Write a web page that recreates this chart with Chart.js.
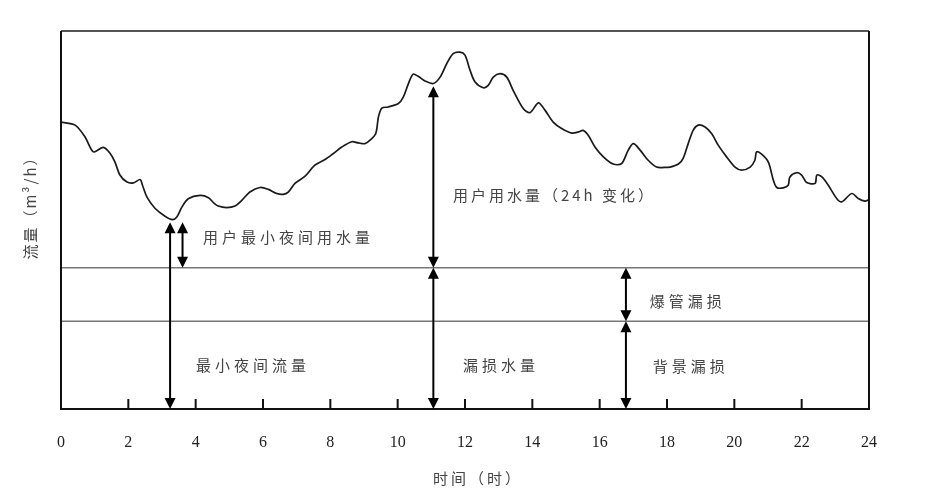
<!DOCTYPE html>
<html>
<head>
<meta charset="utf-8">
<script src="https://cdn.jsdelivr.net/npm/chart.js@4.4.0/dist/chart.umd.min.js"></script>
<style>
  html, body { margin: 0; padding: 0; background: #fff; }
  #wrap { width: 927px; height: 498px; }
</style>
</head>
<body>
<div id="wrap"><canvas id="c"></canvas></div>
<script>
// time of day (h) and flow readings (0-100 relative units)
var hours = [0, 0.42, 0.71, 0.91, 0.99, 1.26, 1.46, 1.6, 1.75, 1.95, 2.15, 2.35, 2.42, 2.55, 2.79, 3.09, 3.31, 3.44, 3.59, 3.78,
  4.13, 4.38, 4.55, 4.67, 4.92, 5.17, 5.37, 5.61, 5.91, 6.16, 6.41, 6.6, 6.75, 6.95, 7.25, 7.54, 7.84, 8.09, 8.34, 8.64,
  8.83, 9.03, 9.18, 9.35, 9.43, 9.53, 9.72, 10.02, 10.17, 10.32, 10.46, 10.61, 10.81, 11.06, 11.26, 11.46, 11.65, 11.85, 12.0, 12.15,
  12.3, 12.54, 12.69, 12.84, 13.04, 13.24, 13.43, 13.73, 13.93, 14.18, 14.38, 14.62, 14.87, 15.17, 15.37, 15.51, 15.66, 15.86, 16.11, 16.4,
  16.65, 16.85, 17.0, 17.2, 17.44, 17.69, 17.92, 18.09, 18.34, 18.48, 18.63, 18.78, 18.93, 19.13, 19.33, 19.52, 19.77, 20.02, 20.22, 20.47,
  20.61, 20.66, 20.81, 21.01, 21.16, 21.26, 21.45, 21.6, 21.65, 21.85, 22.0, 22.15, 22.4, 22.45, 22.6, 22.79, 23.04, 23.19, 23.49, 23.68,
  23.88, 24];
var flow = [75.9, 75.1, 72.0, 68.5, 68.0, 69.2, 67.6, 65.4, 61.9, 60.1, 59.8, 60.7, 59.2, 56.1, 53.1, 51.0, 50.1, 50.8, 53.4, 55.6,
  56.5, 55.9, 54.4, 53.7, 53.3, 53.7, 55.2, 57.4, 58.6, 58.1, 57.0, 56.8, 57.4, 59.7, 61.6, 64.5, 66.0, 67.6, 69.3, 70.7,
  70.4, 70.2, 71.1, 72.9, 77.3, 79.6, 79.9, 80.8, 82.6, 86.1, 88.6, 88.0, 86.8, 86.1, 87.8, 91.4, 94.0, 94.4, 93.6, 89.6,
  86.5, 85.0, 85.6, 87.8, 88.7, 87.8, 84.3, 79.5, 78.4, 81.0, 79.0, 75.9, 74.2, 73.0, 73.3, 73.7, 72.4, 69.3, 66.7, 64.8,
  64.9, 68.5, 70.2, 68.5, 65.8, 64.0, 63.9, 64.0, 64.8, 66.3, 70.2, 73.8, 75.1, 74.6, 72.8, 69.8, 66.7, 64.0, 63.2, 64.0,
  65.8, 68.0, 67.4, 65.3, 60.5, 58.6, 58.5, 59.2, 61.4, 62.5, 61.9, 59.9, 59.7, 61.9, 61.4, 59.2, 55.7, 54.8, 57.0, 55.7,
  55.0, 55.4];

var burstLevel = 37.4;       // top of burst leakage band
var backgroundLevel = 23.2;  // top of background leakage band
var nightMinLevel = 49.4;    // minimum night flow
var middayDipLevel = 85.4;   // user demand point near 11h

// double arrows: [hour, from, to]
var arrowHour = [3.24, 3.61, 11.06, 11.06, 16.78, 16.78];
var arrowFrom = [nightMinLevel, nightMinLevel, middayDipLevel, burstLevel, burstLevel, backgroundLevel];
var arrowTo = [0, burstLevel, burstLevel, 0, backgroundLevel, 0];

var innerTicks = [2, 4, 6, 8, 10, 12, 14, 16, 18, 20, 22];

var labelText = ['用户最小夜间用水量', '用户用水量（24h 变化）', '最小夜间流量', '漏损水量', '爆管漏损', '背景漏损'];
var labelHour = [4.22, 11.64, 4.01, 11.94, 17.49, 17.58];
var labelValue = [45.5, 56.6, 11.6, 11.6, 28.5, 11.4];

var cjk = '"Noto Sans CJK SC", sans-serif';

var decor = {
  id: 'decor',
  afterDatasetsDraw: function(chart) {
    var ctx = chart.ctx, a = chart.chartArea, xs = chart.scales.x, ys = chart.scales.y;
    ctx.save();

    // frame
    ctx.lineWidth = 2;
    ctx.strokeStyle = '#555';
    ctx.beginPath(); ctx.moveTo(a.left, a.top); ctx.lineTo(a.right, a.top); ctx.stroke();
    ctx.strokeStyle = '#111';
    ctx.beginPath();
    ctx.moveTo(a.left, a.top); ctx.lineTo(a.left, a.bottom); ctx.lineTo(a.right, a.bottom); ctx.lineTo(a.right, a.top);
    ctx.stroke();

    // tick marks pointing inward
    innerTicks.forEach(function(h) {
      var x = xs.getPixelForValue(h);
      ctx.beginPath(); ctx.moveTo(x, a.bottom); ctx.lineTo(x, a.bottom - 10); ctx.stroke();
    });

    // arrows
    ctx.fillStyle = '#000';
    ctx.strokeStyle = '#000';
    ctx.lineWidth = 2;
    function head(x, y, dir) {
      ctx.beginPath();
      ctx.moveTo(x, y);
      ctx.lineTo(x - 5.5, y - dir * 11);
      ctx.lineTo(x + 5.5, y - dir * 11);
      ctx.closePath();
      ctx.fill();
    }
    arrowHour.forEach(function(h, i) {
      var x = xs.getPixelForValue(h);
      var y1 = ys.getPixelForValue(arrowFrom[i]);
      var y2 = ys.getPixelForValue(arrowTo[i]);
      ctx.beginPath(); ctx.moveTo(x, y1 + 6); ctx.lineTo(x, y2 - 6); ctx.stroke();
      head(x, y1, -1);
      head(x, y2, 1);
    });

    // annotations
    ctx.fillStyle = '#444';
    ctx.textBaseline = 'middle';
    ctx.textAlign = 'left';
    ctx.font = '15px ' + cjk;
    labelText.forEach(function(t, i) {
      ctx.letterSpacing = i === 1 ? '3px' : '4px';
      ctx.fillText(t, xs.getPixelForValue(labelHour[i]), ys.getPixelForValue(labelValue[i]));
    });

    // axis titles
    ctx.letterSpacing = '3px';
    ctx.textAlign = 'center';
    ctx.fillText('时间（时）', 478, 478);
    ctx.translate(30, 204);
    ctx.rotate(-Math.PI / 2);
    ctx.letterSpacing = '2px';
    ctx.fillText('流量（m³/h）', 0, 0);

    ctx.restore();
  }
};

new Chart(document.getElementById('c'), {
  type: 'line',
  data: {
    datasets: [
      {
        data: hours.map(function(h, i) { return {x: h, y: flow[i]}; }),
        borderColor: '#1a1a1a',
        borderWidth: 1.7,
        pointRadius: 0,
        tension: 0.3,
        fill: false
      },
      {
        data: [{x: 0, y: burstLevel}, {x: 24, y: burstLevel}],
        borderColor: '#777',
        borderWidth: 1.5,
        pointRadius: 0
      },
      {
        data: [{x: 0, y: backgroundLevel}, {x: 24, y: backgroundLevel}],
        borderColor: '#777',
        borderWidth: 1.5,
        pointRadius: 0
      }
    ]
  },
  options: {
    responsive: true,
    maintainAspectRatio: false,
    animation: false,
    layout: {padding: {top: 31, right: 58, left: 0, bottom: 0}},
    plugins: {legend: {display: false}, tooltip: {enabled: false}},
    scales: {
      x: {
        type: 'linear', min: 0, max: 24,
        grid: {display: false}, border: {display: false},
        ticks: {stepSize: 2, padding: 16, autoSkip: false, maxRotation: 0, color: '#222',
                font: {family: '"Liberation Serif", serif', size: 16}},
        afterFit: function(s) { s.height = 89; }
      },
      y: {
        min: 0, max: 100,
        grid: {display: false}, border: {display: false},
        ticks: {display: false},
        afterFit: function(s) { s.width = 61; }
      }
    }
  },
  plugins: [decor]
});
</script>
</body>
</html>
